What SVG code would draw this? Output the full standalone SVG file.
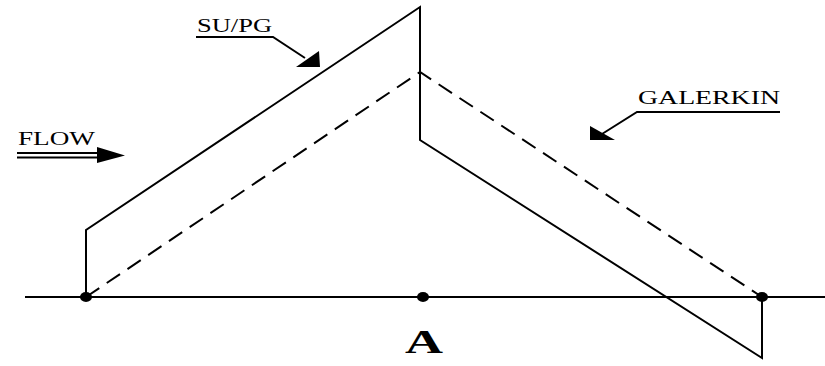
<svg xmlns="http://www.w3.org/2000/svg" width="825" height="366" viewBox="0 0 825 366">
<style>
.ln{stroke:#000;stroke-width:2;fill:none}
.dash{stroke:#000;stroke-width:2;fill:none;stroke-dasharray:16 9}
.lbl{font-family:"Liberation Serif","Times New Roman",serif;font-size:18px;fill:#000}
.big{font-family:"Liberation Serif","Times New Roman",serif;font-size:34px;font-weight:bold;fill:#000}
.dot{fill:#000}
</style>
<rect width="825" height="366" fill="#fff"/>
<g id="connectors">
<line class="ln" x1="25" y1="297" x2="825" y2="297"/>
<polyline class="ln" points="86,297 86,230 420,7 420,140 762,358 762,297"/>
<polyline class="dash" points="86,297 420,72 762,297"/>
</g>
<g id="node-left"><ellipse class="dot" cx="86" cy="297" rx="6" ry="5"/></g>
<g id="node-A"><ellipse class="dot" cx="423" cy="297" rx="6" ry="5"/>
<text class="big" x="405" y="353" textLength="38" lengthAdjust="spacingAndGlyphs">A</text></g>
<g id="node-right"><ellipse class="dot" cx="762" cy="297" rx="6" ry="5"/></g>
<g id="label-supg">
<text class="lbl" x="197" y="32" textLength="75" lengthAdjust="spacingAndGlyphs">SU/PG</text>
<polyline class="ln" points="196,37 273,37 305,58"/>
<polygon fill="#000" points="319,51 320,67 296,67"/>
</g>
<g id="label-flow">
<text class="lbl" x="18" y="145" textLength="77" lengthAdjust="spacingAndGlyphs">FLOW</text>
<line class="ln" x1="17" y1="153" x2="100" y2="153" stroke-width="1.5"/>
<line class="ln" x1="17" y1="157.5" x2="100" y2="157.5" stroke-width="1.5"/>
<polygon fill="#000" points="97,147 125,155.5 97,163"/>
</g>
<g id="label-galerkin">
<text class="lbl" x="638" y="104" textLength="142" lengthAdjust="spacingAndGlyphs">GALERKIN</text>
<polyline class="ln" points="780,112 637,112 602,134"/>
<polygon fill="#000" points="590,126 590,140 615,140"/>
</g>
</svg>
